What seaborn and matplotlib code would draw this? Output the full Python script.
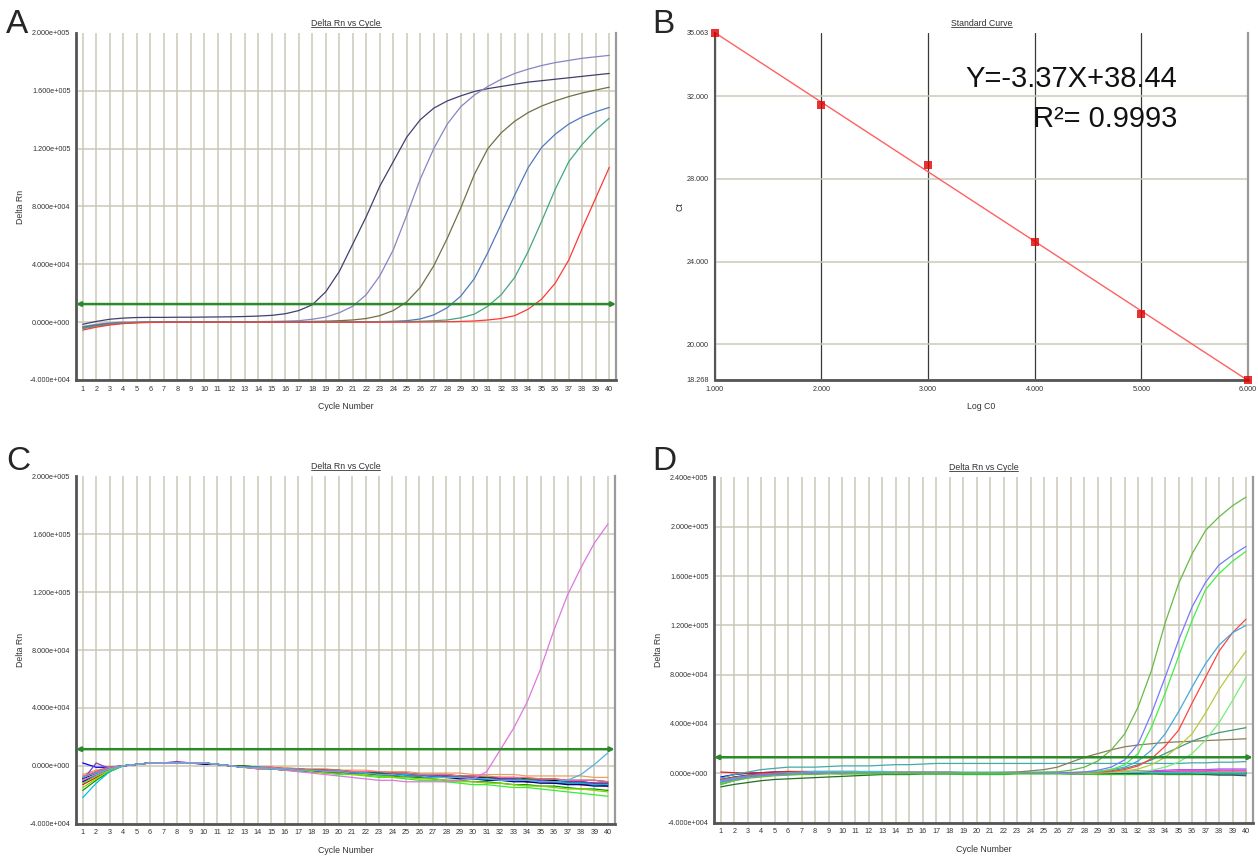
import pandas as pd
import matplotlib.pyplot as plt
import seaborn as sns
from matplotlib.lines import Line2D
from matplotlib.ticker import FuncFormatter, FormatStrFormatter

sns.set_style('white')
plt.rcParams['font.family'] = ['Liberation Sans', 'DejaVu Sans']

GRID = '#cbc7b8'
TXT = '#333333'
TICK = 5.2

cycles = list(range(1, 41))

# ---- panel A: standards, Delta Rn in units of 1e4 ----
a_navy = [-0.15, 0.05, 0.2, 0.28, 0.32, 0.33, 0.33, 0.34, 0.34, 0.35,
          0.36, 0.37, 0.39, 0.42, 0.47, 0.58, 0.8, 1.2, 2.1, 3.5,
          5.4, 7.3, 9.4, 11.1, 12.8, 14.0, 14.8, 15.3, 15.65, 15.95,
          16.15, 16.3, 16.45, 16.6, 16.7, 16.8, 16.9, 17.0, 17.1, 17.2]
a_lav = [-0.3, -0.15, -0.05, 0, 0, 0, 0.01, 0.01, 0.02, 0.02,
         0.02, 0.03, 0.03, 0.04, 0.05, 0.07, 0.1, 0.2, 0.35, 0.65,
         1.1, 1.9, 3.2, 5.0, 7.4, 9.9, 12.0, 13.7, 14.9, 15.7,
         16.3, 16.8, 17.2, 17.5, 17.75, 17.95, 18.1, 18.25, 18.35, 18.45]
a_olive = [-0.35, -0.2, -0.1, -0.05, -0.02, 0, 0, 0, 0, 0,
           0, 0, 0, 0.01, 0.01, 0.02, 0.03, 0.05, 0.07, 0.1,
           0.15, 0.25, 0.45, 0.8, 1.4, 2.4, 3.9, 5.8, 7.9, 10.2,
           12.0, 13.1, 13.9, 14.5, 14.95, 15.3, 15.6, 15.85, 16.05, 16.25]
a_blue = [-0.4, -0.25, -0.12, -0.05, -0.02, 0, 0, 0, 0, 0,
          0, 0, 0, 0, 0, 0, 0, 0, 0.01, 0.01,
          0.02, 0.03, 0.04, 0.06, 0.1, 0.22, 0.5, 1.0, 1.8, 3.0,
          4.8, 6.8, 8.8, 10.7, 12.1, 13.0, 13.7, 14.2, 14.55, 14.85]
a_green = [-0.45, -0.3, -0.15, -0.07, -0.03, 0, 0, 0, 0, 0,
           0, 0, 0, 0, 0, 0, 0, 0, 0, 0,
           0, 0.01, 0.02, 0.03, 0.04, 0.06, 0.1, 0.15, 0.3, 0.55,
           1.1, 1.9, 3.1, 4.9, 7.0, 9.2, 11.1, 12.3, 13.3, 14.1]
a_red = [-0.55, -0.35, -0.2, -0.1, -0.05, -0.02, 0, 0, 0, 0,
         0, 0, 0, 0, 0, 0, 0, 0, 0, 0,
         0, 0, 0, 0, 0, 0.01, 0.02, 0.03, 0.05, 0.08,
         0.15, 0.25, 0.45, 0.9, 1.6, 2.7, 4.3, 6.5, 8.6, 10.7]
a_curves = {'navy': a_navy, 'lav': a_lav, 'olive': a_olive,
            'blue': a_blue, 'green': a_green, 'red': a_red}
a_colors = {'navy': '#404070', 'lav': '#8585c5', 'olive': '#707048',
            'blue': '#5078c0', 'green': '#40a880', 'red': '#ff3838'}
a_threshold = 1.25

# ---- panel B: standard curve ----
log_c0 = [1, 2, 3, 4, 5, 6]
ct = [35.063, 31.56, 28.65, 24.97, 21.47, 18.268]
b_yticks = [18.268, 20, 24, 28, 32, 35.063]

# ---- panel C: negative samples ----
c_blue = [0.2, -0.1, -0.1, 0.0, 0.1, 0.2, 0.2, 0.2, 0.2, 0.2,
          0.1, 0.0, -0.1, -0.1, -0.2, -0.2, -0.3, -0.3, -0.4, -0.4,
          -0.5, -0.5, -0.6, -0.6, -0.6, -0.7, -0.7, -0.8, -0.8, -0.9,
          -0.9, -1.0, -1.0, -1.1, -1.1, -1.2, -1.2, -1.2, -1.3, -1.3]
c_red = [-1.3, -0.8, -0.3, 0.0, 0.1, 0.2, 0.2, 0.2, 0.2, 0.2,
         0.1, 0.0, -0.1, -0.1, -0.2, -0.2, -0.3, -0.3, -0.4, -0.4,
         -0.5, -0.5, -0.5, -0.6, -0.6, -0.7, -0.7, -0.8, -0.8, -0.9,
         -0.9, -1.0, -1.0, -1.1, -1.1, -1.2, -1.2, -1.3, -1.3, -1.4]
c_green = [-1.7, -1.0, -0.4, 0.0, 0.1, 0.2, 0.2, 0.2, 0.2, 0.2,
           0.1, 0.0, -0.1, -0.1, -0.2, -0.3, -0.3, -0.4, -0.4, -0.5,
           -0.5, -0.6, -0.7, -0.7, -0.8, -0.8, -0.9, -1.0, -1.0, -1.1,
           -1.1, -1.2, -1.3, -1.3, -1.4, -1.4, -1.5, -1.6, -1.6, -1.7]
c_lime = [-1.2, -0.7, -0.3, 0.0, 0.1, 0.2, 0.2, 0.2, 0.2, 0.2,
          0.1, 0.0, -0.1, -0.2, -0.2, -0.3, -0.4, -0.4, -0.5, -0.6,
          -0.6, -0.7, -0.8, -0.8, -0.9, -1.0, -1.0, -1.1, -1.2, -1.3,
          -1.3, -1.4, -1.5, -1.5, -1.6, -1.7, -1.8, -1.9, -2.0, -2.1]
c_black = [-0.9, -0.5, -0.2, 0.0, 0.1, 0.2, 0.2, 0.2, 0.2, 0.2,
           0.1, 0.0, -0.1, -0.1, -0.2, -0.2, -0.2, -0.3, -0.3, -0.4,
           -0.4, -0.5, -0.5, -0.5, -0.6, -0.6, -0.7, -0.7, -0.7, -0.8,
           -0.8, -0.9, -0.9, -1.0, -1.0, -1.0, -1.1, -1.1, -1.2, -1.2]
c_orange = [-0.6, -0.3, -0.1, 0.0, 0.1, 0.2, 0.2, 0.2, 0.2, 0.2,
            0.1, 0.0, 0.0, -0.1, -0.1, -0.1, -0.2, -0.2, -0.2, -0.3,
            -0.3, -0.3, -0.4, -0.4, -0.4, -0.5, -0.5, -0.5, -0.5, -0.6,
            -0.6, -0.6, -0.6, -0.7, -0.7, -0.7, -0.7, -0.7, -0.8, -0.8]
c_purple = [-1.0, 0.2, -0.2, 0.0, 0.1, 0.2, 0.2, 0.3, 0.2, 0.2,
            0.1, 0.0, -0.1, -0.1, -0.2, -0.2, -0.3, -0.3, -0.3, -0.4,
            -0.4, -0.5, -0.5, -0.6, -0.6, -0.6, -0.7, -0.7, -0.8, -0.8,
            -0.9, -0.9, -0.9, -1.0, -1.0, -1.1, -1.1, -1.1, -1.2, -1.2]
c_cyan = [-2.2, -1.2, -0.4, 0.0, 0.1, 0.2, 0.2, 0.2, 0.2, 0.2,
          0.1, 0.0, -0.1, -0.1, -0.2, -0.2, -0.3, -0.3, -0.4, -0.4,
          -0.4, -0.5, -0.5, -0.6, -0.6, -0.7, -0.7, -0.8, -0.8, -0.9,
          -0.9, -1.0, -1.0, -1.0, -1.1, -1.1, -1.2, -1.2, -1.3, -1.3]
c_dkgreen = [-0.8, -0.4, -0.1, 0.0, 0.1, 0.2, 0.2, 0.2, 0.2, 0.2,
             0.1, 0.0, 0.0, -0.1, -0.1, -0.2, -0.2, -0.3, -0.3, -0.3,
             -0.4, -0.4, -0.5, -0.5, -0.5, -0.6, -0.6, -0.6, -0.7, -0.7,
             -0.8, -0.8, -0.8, -0.9, -0.9, -0.9, -1.0, -1.0, -1.0, -1.1]
c_navy = [-1.1, -0.6, -0.2, 0.0, 0.1, 0.2, 0.2, 0.2, 0.2, 0.1,
          0.1, 0.0, -0.1, -0.2, -0.2, -0.3, -0.3, -0.4, -0.4, -0.5,
          -0.5, -0.6, -0.6, -0.6, -0.7, -0.7, -0.8, -0.8, -0.9, -0.9,
          -1.0, -1.0, -1.1, -1.1, -1.2, -1.2, -1.3, -1.3, -1.4, -1.4]
c_ygreen = [-1.5, -0.9, -0.3, 0.0, 0.1, 0.2, 0.2, 0.2, 0.2, 0.2,
            0.1, 0.0, -0.1, -0.2, -0.2, -0.3, -0.3, -0.4, -0.5, -0.5,
            -0.6, -0.6, -0.7, -0.8, -0.8, -0.9, -0.9, -1.0, -1.1, -1.1,
            -1.2, -1.2, -1.3, -1.4, -1.4, -1.5, -1.6, -1.6, -1.7, -1.8]
c_pink = [-0.7, -0.4, -0.1, 0.0, 0.1, 0.2, 0.2, 0.2, 0.2, 0.2,
          0.1, 0.0, -0.1, -0.1, -0.1, -0.2, -0.2, -0.3, -0.3, -0.3,
          -0.4, -0.4, -0.4, -0.5, -0.5, -0.6, -0.6, -0.6, -0.7, -0.7,
          -0.7, -0.8, -0.8, -0.8, -0.9, -0.9, -1.0, -1.0, -1.0, -1.1]
c_violet = [-1.0, -0.6, -0.2, 0.0, 0.1, 0.2, 0.2, 0.2, 0.2, 0.2,
            0.1, 0.0, -0.1, -0.2, -0.2, -0.3, -0.4, -0.5, -0.6, -0.7,
            -0.8, -0.9, -1.0, -1.0, -1.1, -1.1, -1.1, -1.1, -1.0, -0.9,
            -0.4, 1.1, 2.6, 4.4, 6.7, 9.4, 11.8, 13.7, 15.4, 16.7]
c_sky = [-0.8, -0.5, -0.2, 0.0, 0.1, 0.2, 0.2, 0.2, 0.2, 0.2,
         0.1, 0.0, -0.1, -0.1, -0.2, -0.2, -0.3, -0.3, -0.4, -0.4,
         -0.5, -0.5, -0.6, -0.6, -0.7, -0.7, -0.8, -0.8, -0.8, -0.9,
         -0.9, -1.0, -1.0, -1.0, -1.1, -1.1, -1.0, -0.6, 0.1, 0.9]
c_curves = {'blue': c_blue, 'red': c_red, 'green': c_green, 'lime': c_lime,
            'black': c_black, 'orange': c_orange, 'purple': c_purple,
            'cyan': c_cyan, 'dkgreen': c_dkgreen, 'navy': c_navy,
            'ygreen': c_ygreen, 'pink': c_pink, 'violet': c_violet, 'sky': c_sky}
c_colors = {'blue': '#0000ff', 'red': '#ff0000', 'green': '#00a000', 'lime': '#33ee33',
            'black': '#000000', 'orange': '#e8a060', 'purple': '#8040c0',
            'cyan': '#00c0e0', 'dkgreen': '#006400', 'navy': '#000080',
            'ygreen': '#90d000', 'pink': '#ff60a0', 'violet': '#dd77dd', 'sky': '#55b0e0'}
c_threshold = 1.15

# ---- panel D: samples ----
d_navy = [-0.7, -0.4, -0.2, -0.1, -0.05, 0, 0, 0.05, 0.05, 0.05,
          0.05, 0.05, 0.05, 0.05, 0.05, 0.05, 0.05, 0.05, 0.05, 0.05,
          0, 0, 0, 0, 0, 0, 0, 0, 0, 0,
          0.05, 0.05, 0.05, 0.05, 0.05, 0.05, 0.05, 0.05, 0.05, 0.05]
d_royal = [-0.3, -0.1, 0, 0.05, 0.1, 0.1, 0.1, 0.1, 0.1, 0.1,
           0.1, 0.05, 0.05, 0.05, 0.05, 0.05, 0.05, 0, 0, 0,
           0, 0, 0, 0, 0, 0, 0, 0, 0, 0,
           0, 0, 0, 0, 0, -0.05, -0.05, -0.05, -0.05, -0.05]
d_forest = [-1.1, -0.9, -0.75, -0.6, -0.5, -0.45, -0.4, -0.35, -0.3, -0.25,
            -0.2, -0.15, -0.1, -0.1, -0.1, -0.05, -0.05, -0.05, -0.05, -0.05,
            -0.05, -0.05, 0, 0, 0, 0, -0.05, -0.05, -0.05, -0.05,
            -0.05, -0.05, -0.05, -0.1, -0.1, -0.1, -0.1, -0.15, -0.15, -0.2]
d_crimson = [0.1, 0.05, 0, 0.05, 0.1, 0.15, 0.15, 0.15, 0.15, 0.15,
             0.15, 0.1, 0.1, 0.1, 0.1, 0.1, 0.1, 0.1, 0.05, 0.05,
             0.05, 0.05, 0.05, 0.05, 0.05, 0.05, 0.05, 0.05, 0.1, 0.1,
             0.1, 0.1, 0.1, 0.1, 0.1, 0.1, 0.1, 0.1, 0.1, 0.1]
d_magenta = [-0.8, -0.5, -0.3, -0.15, -0.1, -0.05, 0, 0, 0, 0,
             0.05, 0.05, 0.05, 0.05, 0.05, 0.05, 0, 0, 0, 0,
             0, 0, 0, 0, 0, 0.05, 0.05, 0.05, 0.1, 0.1,
             0.1, 0.15, 0.15, 0.15, 0.2, 0.2, 0.2, 0.25, 0.25, 0.25]
d_black = [-0.5, -0.3, -0.15, -0.1, -0.05, 0, 0, 0, 0, 0,
           0, 0, 0, 0, 0, 0, 0, 0, 0, 0,
           0, 0, 0, 0, 0, 0, 0, 0, 0, 0,
           0, 0, 0, 0, 0, 0, 0, 0, 0, 0]
d_kelly = [-0.9, -0.6, -0.35, -0.2, -0.1, -0.05, 0, 0, 0, -0.05,
           -0.05, -0.05, -0.05, -0.05, -0.05, -0.05, -0.05, -0.05, -0.1, -0.1,
           -0.1, -0.1, -0.05, -0.05, -0.05, -0.05, -0.05, -0.05, -0.1, -0.1,
           -0.1, -0.1, -0.05, -0.05, -0.05, -0.05, 0, 0, 0, 0]
d_aqua = [-0.6, -0.35, -0.2, -0.1, 0, 0.05, 0.1, 0.15, 0.15, 0.15,
          0.15, 0.15, 0.15, 0.1, 0.1, 0.1, 0.1, 0.1, 0.1, 0.1,
          0.1, 0.1, 0.1, 0.1, 0.1, 0.1, 0.05, 0.05, 0.05, 0.05,
          0.05, 0.05, 0.05, 0.05, 0.05, 0.05, 0.05, 0.05, 0.05, 0.05]
d_cyan = [-0.4, -0.1, 0.1, 0.3, 0.4, 0.5, 0.5, 0.5, 0.55, 0.6,
          0.6, 0.6, 0.65, 0.7, 0.7, 0.75, 0.8, 0.8, 0.8, 0.8,
          0.8, 0.8, 0.8, 0.8, 0.8, 0.8, 0.8, 0.8, 0.8, 0.8,
          0.8, 0.8, 0.8, 0.8, 0.8, 0.85, 0.85, 0.9, 0.9, 0.95]
d_purple = [-0.6, -0.4, -0.25, -0.15, -0.1, -0.05, 0, 0, 0, 0,
            0, 0, 0, 0, 0, 0, 0, 0, 0, 0,
            0, 0, 0, 0, 0, 0, 0.05, 0.05, 0.1, 0.1,
            0.15, 0.2, 0.2, 0.25, 0.3, 0.3, 0.3, 0.35, 0.35, 0.35]
d_brown = [-0.6, -0.4, -0.25, -0.15, -0.1, -0.05, 0, 0, 0, 0,
           0, 0, 0, 0, 0, 0, 0, 0.02, 0.03, 0.04,
           0.05, 0.07, 0.1, 0.2, 0.3, 0.5, 0.9, 1.3, 1.6, 1.9,
           2.15, 2.3, 2.4, 2.5, 2.55, 2.6, 2.65, 2.7, 2.75, 2.8]
d_teal = [-0.8, -0.5, -0.3, -0.2, -0.1, -0.05, 0, 0, 0, 0,
          0, 0, 0, 0, 0, 0, 0, 0, 0, 0,
          0, 0, 0, 0, 0, 0.02, 0.03, 0.05, 0.1, 0.2,
          0.4, 0.7, 1.1, 1.6, 2.1, 2.6, 3.0, 3.3, 3.5, 3.7]
d_mint = [-0.7, -0.45, -0.3, -0.2, -0.1, -0.05, 0, 0, 0, 0,
          0, 0, 0, 0, 0, 0, 0, 0, 0, 0,
          0, 0, 0, 0, 0, 0, 0, 0, 0.03, 0.06,
          0.1, 0.15, 0.25, 0.5, 0.9, 1.6, 2.7, 4.1, 5.9, 7.8]
d_olive = [-0.6, -0.4, -0.25, -0.15, -0.1, -0.05, 0, 0, 0, 0,
           0, 0, 0, 0, 0, 0, 0, 0, 0, 0,
           0, 0, 0, 0, 0, 0, 0, 0.02, 0.05, 0.1,
           0.2, 0.35, 0.7, 1.3, 2.2, 3.2, 4.9, 6.8, 8.4, 9.9]
d_red = [-0.5, -0.35, -0.2, -0.1, -0.05, 0, 0, 0, 0, 0,
         0, 0, 0, 0, 0, 0, 0, 0, 0, 0,
         0, 0, 0, 0, 0, 0, 0.02, 0.05, 0.1, 0.15,
         0.3, 0.6, 1.2, 2.2, 3.5, 5.7, 7.8, 9.9, 11.4, 12.5]
d_sky = [-0.6, -0.4, -0.25, -0.15, -0.1, -0.05, 0, 0, 0, 0,
         0, 0, 0, 0, 0, 0, 0, 0, 0, 0,
         0, 0, 0, 0, 0, 0.03, 0.05, 0.1, 0.15, 0.3,
         0.5, 1.0, 1.9, 3.2, 5.0, 7.0, 8.9, 10.4, 11.4, 12.0]
d_bright = [-0.8, -0.55, -0.35, -0.25, -0.15, -0.1, -0.05, 0, 0, 0,
            0, 0, 0, 0, 0, 0, 0, 0, 0, 0,
            0, 0, 0, 0, 0.02, 0.03, 0.05, 0.08, 0.15, 0.3,
            0.7, 1.6, 3.8, 6.5, 9.5, 12.4, 14.9, 16.2, 17.2, 18.0]
d_blue = [-0.7, -0.5, -0.3, -0.2, -0.1, -0.1, -0.05, 0, 0, 0,
          0, 0, 0, 0, 0, 0, 0, 0, 0, 0,
          0, 0, 0, 0, 0.02, 0.04, 0.07, 0.1, 0.25, 0.5,
          1.1, 2.4, 4.9, 7.8, 10.8, 13.5, 15.5, 16.9, 17.7, 18.4]
d_green = [-0.9, -0.6, -0.4, -0.3, -0.2, -0.15, -0.1, -0.1, -0.05, -0.05,
           0, 0, 0, 0, 0, 0, 0, 0, 0, 0,
           0, 0, 0.02, 0.05, 0.08, 0.12, 0.25, 0.5, 1.0, 1.9,
           3.2, 5.4, 8.4, 12.2, 15.4, 17.8, 19.7, 20.8, 21.7, 22.4]
d_curves = {'navy': d_navy, 'royal': d_royal, 'forest': d_forest, 'crimson': d_crimson,
            'magenta': d_magenta, 'black': d_black, 'kelly': d_kelly, 'aqua': d_aqua,
            'cyan': d_cyan, 'purple': d_purple, 'brown': d_brown, 'teal': d_teal,
            'mint': d_mint, 'olive': d_olive, 'red': d_red, 'sky': d_sky,
            'bright': d_bright, 'blue': d_blue, 'green': d_green}
d_colors = {'navy': '#000080', 'royal': '#0000ff', 'forest': '#207020', 'crimson': '#e02020',
            'magenta': '#d040d0', 'black': '#202020', 'kelly': '#30c030', 'aqua': '#40c0e0',
            'cyan': '#44aaaa', 'purple': '#aa55ee', 'brown': '#8b7d5a', 'teal': '#449977',
            'mint': '#77ee77', 'olive': '#b8c840', 'red': '#ff4444', 'sky': '#44a8e0',
            'bright': '#44ee44', 'blue': '#7777ff', 'green': '#66bb44'}
d_threshold = 1.3


def sci(v, pos):
    m, e = f'{v:.3e}'.split('e')
    return f'{m}e{int(e):+04d}'


def long_df(curves):
    df = pd.DataFrame({'cycle': cycles, **curves})
    df = df.melt(id_vars='cycle', var_name='well', value_name='rn')
    df['rn'] = df['rn'] * 1e4
    return df


def frame(ax, left_lw=2):
    ax.spines['left'].set(color='#555555', lw=left_lw)
    ax.spines['bottom'].set(color='#555555', lw=2)
    ax.spines['right'].set(color='#9a9a9a', lw=1.6)
    ax.spines['top'].set_visible(False)
    ax.tick_params(length=0, labelsize=TICK, labelcolor=TXT)
    ax.tick_params(axis='y', pad=4)
    ax.tick_params(axis='x', pad=4)
    ax.set_axisbelow(True)


def amp_panel(ax, curves, colors, thr, ymax):
    sns.lineplot(data=long_df(curves), x='cycle', y='rn', hue='well',
                 hue_order=list(curves), palette=colors, estimator=None,
                 lw=0.9, legend=False, ax=ax)
    ax.set_xlim(0.5, 40.5)
    ax.set_ylim(-40000, ymax)
    ax.set_xticks(cycles)
    ax.set_yticks(list(range(-40000, ymax + 1, 40000)))
    ax.yaxis.set_major_formatter(FuncFormatter(sci))
    ax.grid(True, color=GRID, lw=1.1)
    ax.get_ygridlines()[-1].set_visible(False)
    ax.set_xlabel('Cycle Number', fontsize=6.3, color=TXT)
    ax.xaxis.set_label_coords(0.5, -0.064)
    ax.set_ylabel('Delta Rn', fontsize=6.3, color=TXT)
    ax.yaxis.set_label_coords(-0.094, 0.5)
    ax.annotate('', xy=(40.5, thr * 1e4), xytext=(0.5, thr * 1e4),
                arrowprops=dict(arrowstyle='<|-|>', color='#2a8a2a', lw=1.8,
                                mutation_scale=6, shrinkA=0, shrinkB=0),
                annotation_clip=False)
    frame(ax)


fig = plt.figure(figsize=(12.58, 8.56), dpi=100)
ax_a = fig.add_axes([0.0604, 0.5561, 0.4293, 0.4054])
ax_b = fig.add_axes([0.5680, 0.5561, 0.4241, 0.4054])
ax_c = fig.add_axes([0.0604, 0.0377, 0.4282, 0.4058])
ax_d = fig.add_axes([0.5676, 0.0390, 0.4282, 0.4033])

amp_panel(ax_a, a_curves, a_colors, a_threshold, 200000)
amp_panel(ax_c, c_curves, c_colors, c_threshold, 200000)
amp_panel(ax_d, d_curves, d_colors, d_threshold, 240000)

# standard curve
sns.regplot(x=log_c0, y=ct, ci=None, ax=ax_b, marker='s', color='#e00000',
            scatter_kws={'s': 34, 'clip_on': False, 'zorder': 5, 'linewidths': 0},
            line_kws={'color': '#ff6060', 'lw': 1})
ax_b.set_xlim(1, 6)
ax_b.set_ylim(18.268, 35.063)
ax_b.set_xticks(log_c0)
ax_b.set_yticks(b_yticks)
ax_b.xaxis.set_major_formatter(FormatStrFormatter('%.3f'))
ax_b.yaxis.set_major_formatter(FormatStrFormatter('%.3f'))
ax_b.yaxis.grid(True, color=GRID, lw=1.1)
ax_b.xaxis.grid(True, color='#3a3a3a', lw=0.9)
ax_b.get_ygridlines()[-1].set_visible(False)
ax_b.set_xlabel('Log C0', fontsize=6.3, color=TXT)
ax_b.xaxis.set_label_coords(0.5, -0.064)
ax_b.set_ylabel('Ct', fontsize=6.3, color=TXT)
ax_b.yaxis.set_label_coords(-0.057, 0.5)
frame(ax_b, left_lw=1.5)
ax_b.text(0.867, 0.866, 'Y=-3.37X+38.44', transform=ax_b.transAxes,
          ha='right', va='center', fontsize=21, color='#111111')
ax_b.text(0.867, 0.752, 'R²= 0.9993', transform=ax_b.transAxes,
          ha='right', va='center', fontsize=21, color='#111111')

titles = [ax_a.set_title('Delta Rn vs Cycle', fontsize=6.3, color=TXT, pad=5),
          ax_b.set_title('Standard Curve', fontsize=6.3, color=TXT, pad=5),
          ax_c.set_title('Delta Rn vs Cycle', fontsize=6.3, color=TXT, pad=5),
          ax_d.set_title('Delta Rn vs Cycle', fontsize=6.3, color=TXT, pad=5)]

for letter, x, y in [('A', 6, 33), ('B', 652, 33), ('C', 6, 470), ('D', 652, 470)]:
    fig.text(x / 1258, 1 - y / 856, letter, fontsize=24, va='baseline', ha='left')

# underline the small titles like the instrument software does
fig.canvas.draw()
renderer = fig.canvas.get_renderer()
W, H = fig.bbox.width, fig.bbox.height
for t in titles:
    bb = t.get_window_extent(renderer)
    y = (bb.y0 + 1.2) / H
    fig.add_artist(Line2D([bb.x0 / W, bb.x1 / W], [y, y], transform=fig.transFigure,
                          lw=0.6, color=TXT))

fig.savefig('out.png', dpi=100)
plt.close(fig)
